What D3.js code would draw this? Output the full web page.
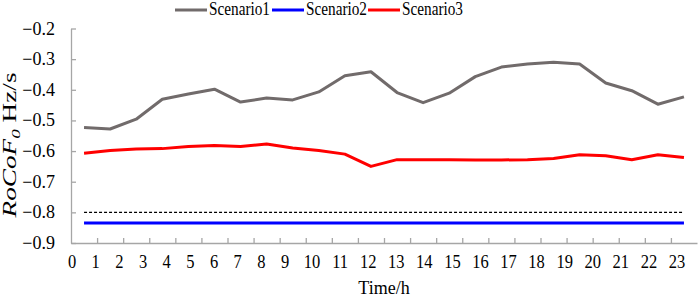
<!DOCTYPE html>
<html>
<head>
<meta charset="utf-8">
<script src="https://cdn.jsdelivr.net/npm/d3@7"></script>
<style>
  body { margin: 0; background: #fff; }
</style>
</head>
<body>
<script>
// data
var HOURS = d3.range(24);
var SCENARIO1 = [-0.523, -0.528, -0.496, -0.431, -0.414, -0.398, -0.440, -0.427, -0.433, -0.407, -0.354, -0.341,
                 -0.409, -0.442, -0.411, -0.357, -0.326, -0.316, -0.310, -0.316, -0.378, -0.403, -0.447, -0.423];
var SCENARIO2 = [-0.835, -0.835, -0.835, -0.835, -0.835, -0.835, -0.835, -0.835, -0.835, -0.835, -0.835, -0.835,
                 -0.835, -0.835, -0.835, -0.835, -0.835, -0.835, -0.835, -0.835, -0.835, -0.835, -0.835, -0.835];
var SCENARIO3 = [-0.607, -0.598, -0.593, -0.592, -0.585, -0.582, -0.585, -0.577, -0.590, -0.598, -0.610, -0.650,
                 -0.628, -0.628, -0.628, -0.629, -0.629, -0.628, -0.624, -0.612, -0.615, -0.628, -0.612, -0.621];
var LIMIT = -0.8;
var SERIES_NAMES = ["Scenario1", "Scenario2", "Scenario3"];
var Y_TICKS = [-0.2, -0.3, -0.4, -0.5, -0.6, -0.7, -0.8, -0.9];
var X_LABELS = d3.range(24);

var COLORS = ["#716b6b", "#0000ff", "#ff0000"];
var FONT = "'Liberation Serif', 'Times New Roman', Times, serif";
var W = 699, H = 299;
var MARGINS = {top: 28.5, bottom: 56, left: 71, right: 2};

var svg = d3.select("body").append("svg")
    .attr("width", W)
    .attr("height", H)
    .style("font-family", FONT);

// x - scale: one slot per hour, points at slot centres
var xScale = d3.scaleLinear().domain([0, 24]).range([MARGINS.left, W - MARGINS.right]);
// labels sit a bit irregularly under the axis in the original
var xLabelScale = d3.scaleLinear().domain([0, 9, 10, 23]).range([72, 285, 312, 677]);
// y scale
var yScale = d3.scaleLinear().domain([-0.9, -0.2]).range([H - MARGINS.bottom, MARGINS.top]);

var axisColor = "#a6a6a6";

// axes
var xAxis = d3.axisBottom(xScale).tickValues(d3.range(1, 24)).tickSizeInner(-5).tickSizeOuter(0).tickFormat("");
svg.append("g").attr("class", "x axis")
    .attr("transform", "translate(0," + yScale(-0.9) + ")")
    .call(xAxis);
var yAxis = d3.axisLeft(yScale).tickValues(Y_TICKS).tickSizeInner(-5).tickSizeOuter(0).tickFormat("");
svg.append("g").attr("class", "y axis")
    .attr("transform", "translate(" + xScale(0) + ",0)")
    .call(yAxis);
svg.selectAll(".axis path, .axis line").attr("stroke", axisColor).attr("stroke-width", 1.3);

// tick labels
svg.append("g").selectAll("text").data(X_LABELS).enter().append("text")
    .attr("transform", function (d) { return "translate(" + xLabelScale(d) + ",268) scale(1,1.2)"; })
    .attr("text-anchor", "middle")
    .style("font-family", FONT)
    .style("font-size", "16.5px")
    .text(function (d) { return d; });

svg.append("g").selectAll("text").data(Y_TICKS).enter().append("text")
    .attr("transform", function (d) { return "translate(55," + (yScale(d) + 6) + ")"; })
    .attr("text-anchor", "end")
    .style("font-family", FONT)
    .style("font-size", "18px")
    .text(function (d) { return d.toFixed(1).replace("-", "\u2212"); });

// axis titles
svg.append("text")
    .attr("transform", "translate(" + ((xScale(0) + xScale(24)) / 2) + ",294)")
    .attr("text-anchor", "middle")
    .style("font-family", FONT)
    .style("font-size", "18px")
    .text("Time/h");

var yt = svg.append("text")
    .attr("transform", "translate(16,145) rotate(-90)")
    .attr("text-anchor", "middle")
    .attr("textLength", 145)
    .attr("lengthAdjust", "spacingAndGlyphs")
    .style("font-family", FONT)
    .style("font-size", "18.5px");
yt.append("tspan").style("font-style", "italic").text("RoCoF");
yt.append("tspan").style("font-style", "italic").style("font-size", "13px").attr("dy", 4).text("0");
yt.append("tspan").attr("dy", -4).text(" Hz/s");

// limit line
var line = d3.line()
    .x(function (d, i) { return xScale(HOURS[i] + 0.5); })
    .y(function (d) { return yScale(d); });

svg.append("path")
    .datum(HOURS.map(function () { return LIMIT; }))
    .attr("d", line)
    .attr("fill", "none")
    .attr("stroke", "#000")
    .attr("stroke-width", 1.3)
    .attr("stroke-dasharray", "3,2");

// series
[SCENARIO1, SCENARIO2, SCENARIO3].forEach(function (s, k) {
    svg.append("path")
        .datum(s)
        .attr("d", line)
        .attr("fill", "none")
        .attr("stroke", COLORS[k])
        .attr("stroke-width", 3)
        .attr("stroke-linejoin", "round");
});

// legend
var LEGEND_X = [175, 272, 368];
var lg = svg.append("g").selectAll("g").data(SERIES_NAMES).enter().append("g")
    .attr("transform", function (d, i) { return "translate(" + LEGEND_X[i] + ",10)"; });
lg.append("line")
    .attr("x1", 0).attr("x2", 32).attr("y1", 0).attr("y2", 0)
    .attr("stroke", function (d, i) { return COLORS[i]; })
    .attr("stroke-width", 3);
lg.append("text")
    .attr("transform", "translate(34,5) scale(1,1.2)")
    .attr("textLength", 61)
    .attr("lengthAdjust", "spacingAndGlyphs")
    .style("font-family", FONT)
    .style("font-size", "15.5px")
    .text(function (d) { return d; });
</script>
</body>
</html>
